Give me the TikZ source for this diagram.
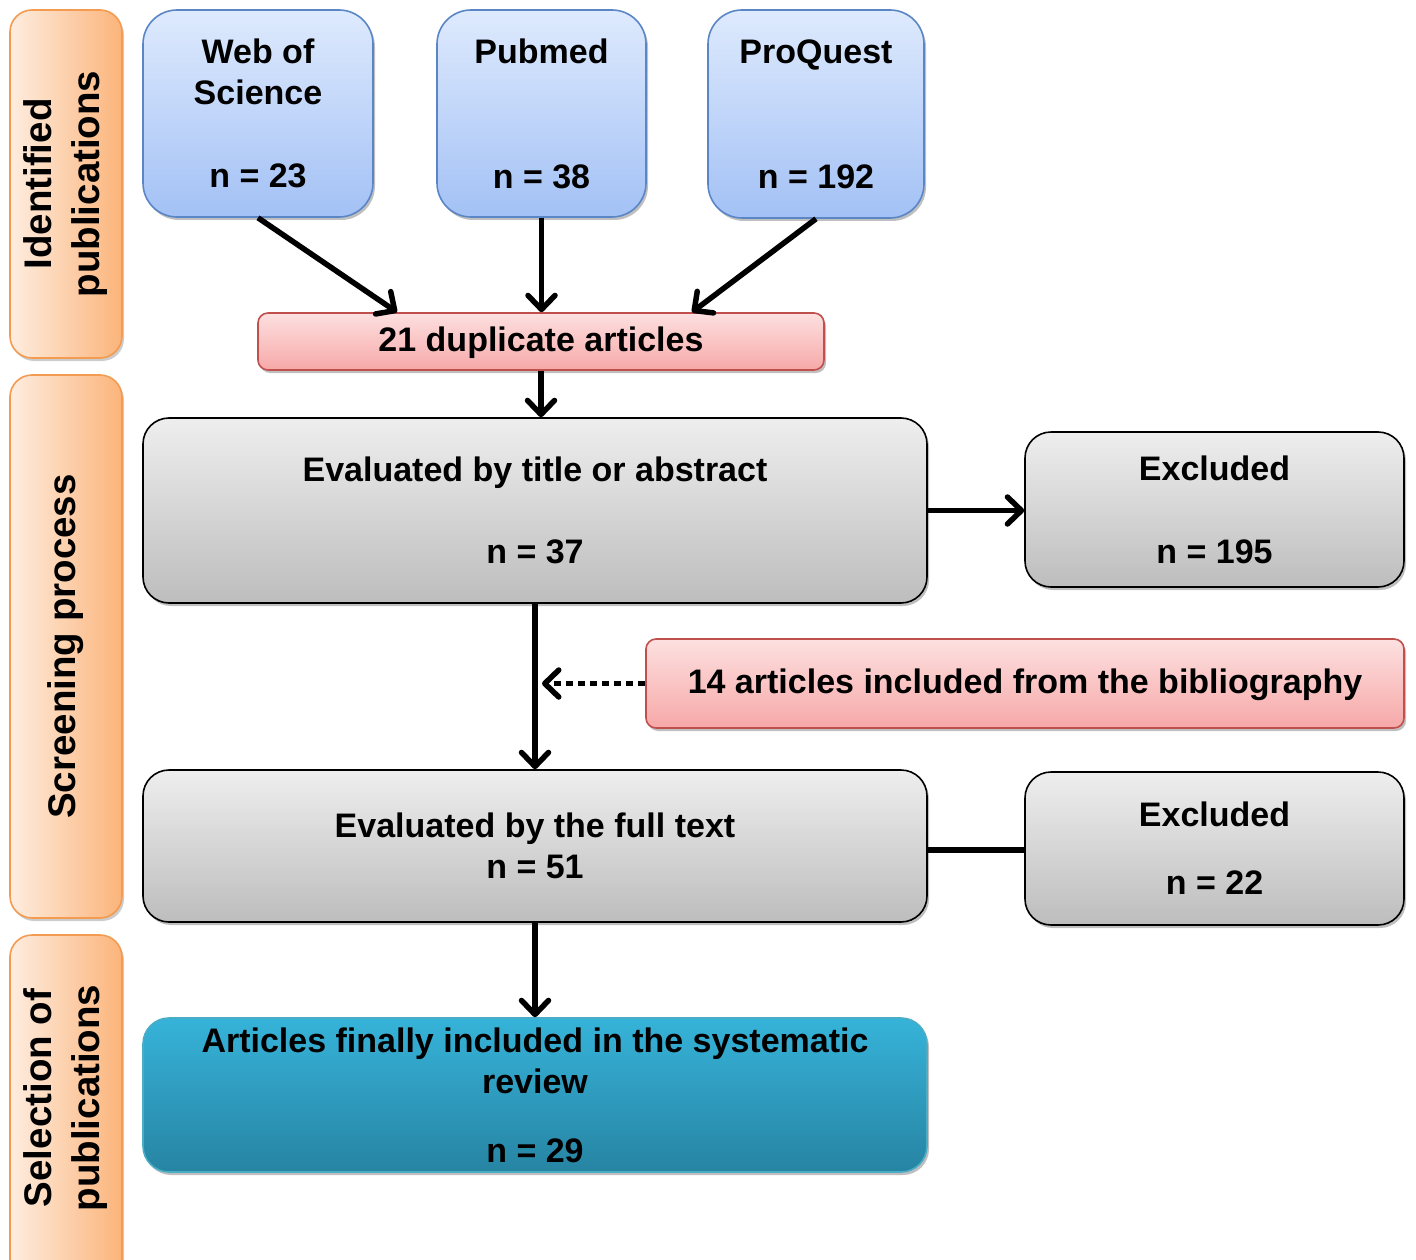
\documentclass[tikz,border=0pt]{standalone}
\usepackage{fontspec}
\setmainfont{Liberation Sans}
\usetikzlibrary{arrows.meta, shadows, calc}
\definecolor{bluetop}{HTML}{DEEAFD}
\definecolor{bluebot}{HTML}{A3C1F5}
\definecolor{blueedge}{HTML}{5B86C6}
\definecolor{redtop}{HTML}{FDE0E0}
\definecolor{redbot}{HTML}{F7A8A8}
\definecolor{rededge}{HTML}{C0504D}
\definecolor{graytop}{HTML}{EEEEEE}
\definecolor{graybot}{HTML}{BDBDBD}
\definecolor{tealtop}{HTML}{36B3D9}
\definecolor{tealbot}{HTML}{2784A3}
\definecolor{tealedge}{HTML}{4BACC6}
\definecolor{orleft}{HTML}{FEEDE0}
\definecolor{orright}{HTML}{FBB47A}
\definecolor{oredge}{HTML}{F39B50}
\tikzset{
    base/.style={draw, line width=1.6pt, inner sep=0pt, align=center,
        font=\bfseries\fontsize{34}{41}\selectfont,
        drop shadow={shadow xshift=2pt, shadow yshift=-3pt, opacity=0.25, fill=black}},
    dbbox/.style={base, draw=blueedge, top color=bluetop, bottom color=bluebot, rounded corners=34pt},
    dupbox/.style={base, draw=rededge, top color=redtop, bottom color=redbot, rounded corners=10pt},
    evalbox/.style={base, draw=black, top color=graytop, bottom color=graybot, rounded corners=26pt},
    finbox/.style={base, draw=tealedge, top color=tealtop, bottom color=tealbot, rounded corners=26pt},
    side/.style={draw=oredge, line width=1.6pt, rotate=90, inner sep=0pt, align=center,
        left color=orleft, right color=orright, rounded corners=22pt, minimum height=112pt,
        font=\bfseries\fontsize{38.5}{48}\selectfont,
        drop shadow={shadow xshift=2pt, shadow yshift=-3pt, opacity=0.2, fill=black}},
    arr/.style={line width=5.5pt, -{Straight Barb[length=14pt, width=27pt, line width=5.5pt, round]}}
}
\begin{document}
\begin{tikzpicture}[x=1pt, y=-1pt]
    \useasboundingbox (0,0) rectangle (1416,1260);
    % phases
    \node[side, minimum width=348pt] (sideid) at (66,184) {Identified\\publications};
    \node[side, minimum width=543pt] (sidescr) at (66,646.5) {Screening process};
    \node[side, minimum width=355pt] (sidesel) at (66,1112.5) {\hspace*{29pt}Selection of\\\hspace*{29pt}publications};
    % databases
    \node[dbbox, minimum width=230pt, minimum height=207pt] (wos) at (258,113.5) {Web of\\Science\\[42pt]n = 23};
    \node[dbbox, minimum width=209pt, minimum height=207pt] (pm) at (541.5,113.5) {Pubmed\\[84pt]n = 38};
    \node[dbbox, minimum width=216pt, minimum height=208pt] (pq) at (816,114) {ProQuest\\[84pt]n = 192};
    \node[dupbox, minimum width=566pt, minimum height=57pt, text depth=4pt] (dup) at (541,341.5) {21 duplicate articles};
    % screening
    \node[evalbox, minimum width=784pt, minimum height=185pt] (evt) at (535,510.5) {Evaluated by title or abstract\\[41pt]n = 37};
    \node[evalbox, minimum width=379pt, minimum height=155pt] (ex1) at (1214.5,509.5) {Excluded\\[42pt]n = 195};
    \node[dupbox, minimum width=758pt, minimum height=89pt, text depth=4pt] (inc) at (1025,683.5) {14 articles included from the bibliography};
    \node[evalbox, minimum width=784pt, minimum height=152pt] (evf) at (535,846) {Evaluated by the full text\\n = 51};
    \node[evalbox, minimum width=379pt, minimum height=153pt] (ex2) at (1214.5,848.5) {Excluded\\[27pt]n = 22};
    % selection
    \node[finbox, minimum width=784pt, minimum height=154pt] (fin) at (535,1095) {Articles finally included in the systematic\\review\\[28pt]n = 29};
    % connectors
    \draw[arr] (wos.south) -- ([xshift=-144pt]dup.north);
    \draw[arr] (pm.south) -- (pm.south |- dup.north);
    \draw[arr] (pq.south) -- ([xshift=151pt]dup.north);
    \draw[arr] (dup.south) -- (dup.south |- evt.north);
    \draw[arr] (evt.south) -- (evf.north);
    \draw[arr, dash pattern=on 7pt off 5pt] (inc.west) -- ($(inc.west -| evt.south)+(7,0)$);
    \draw[arr] (evt.east) -- (evt.east -| ex1.west);
    \draw[line width=5.5pt] ([yshift=-4pt]evf.east) -- ([yshift=-4pt]evf.east -| ex2.west);
    \draw[arr] (evf.south) -- (fin.north);
\end{tikzpicture}
\end{document}
